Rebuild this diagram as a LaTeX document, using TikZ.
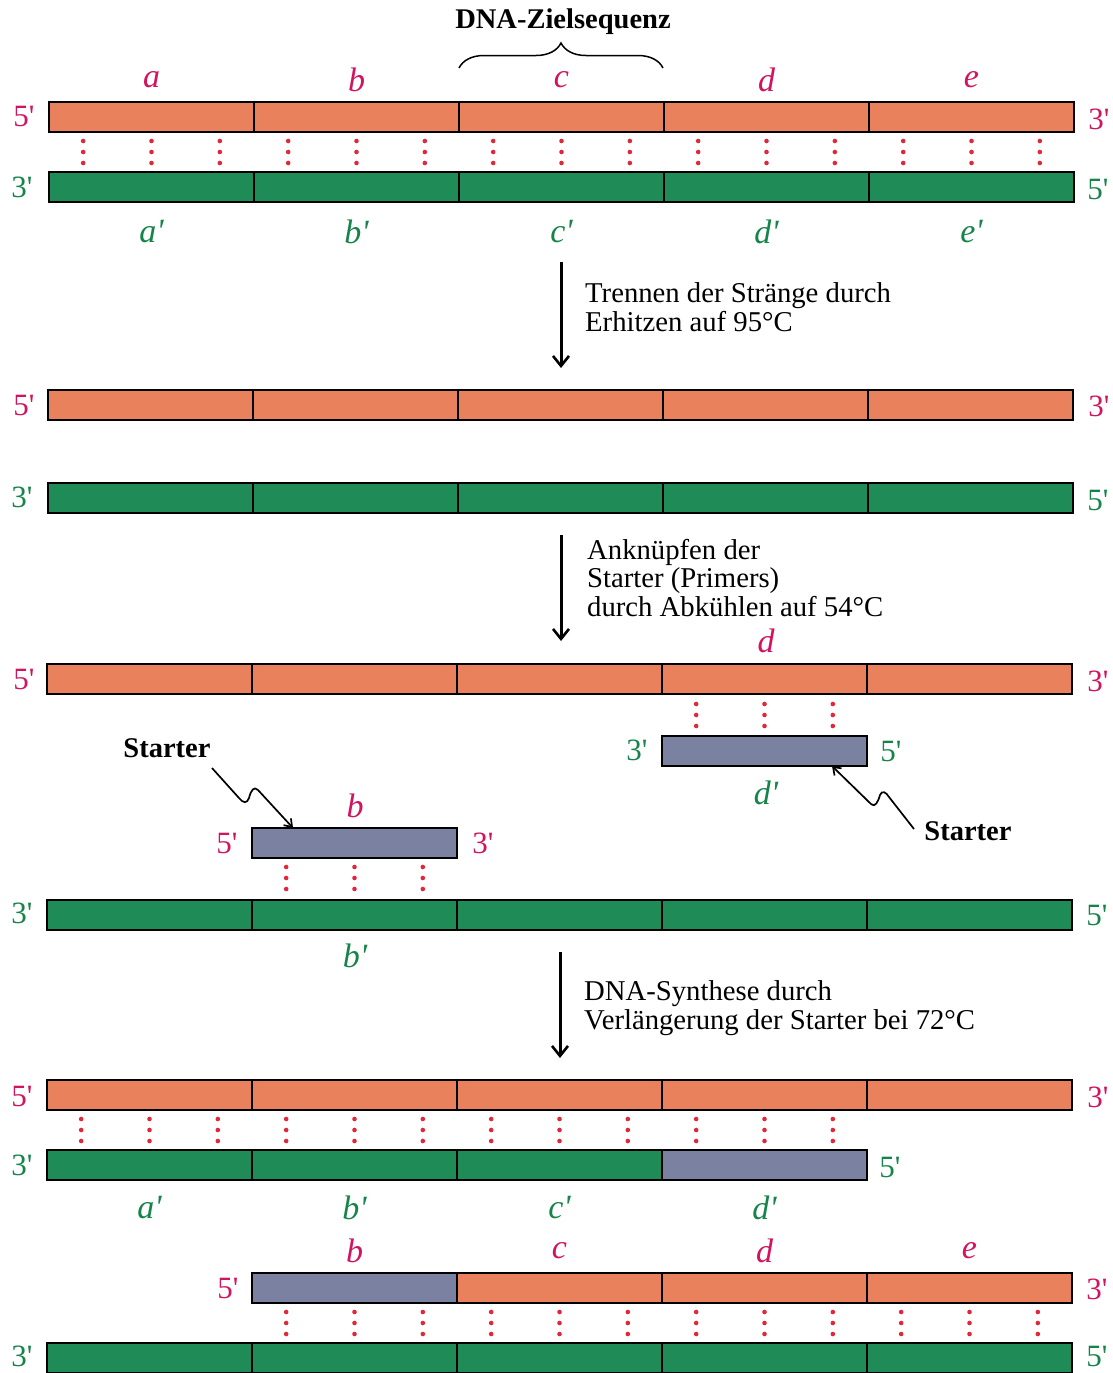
\documentclass[tikz,border=0pt]{standalone}
\usepackage{fontspec}
\setmainfont{Liberation Serif}
\newfontfamily\endfont{Liberation Serif}[Ligatures=TeXOff]
\usetikzlibrary{arrows.meta,decorations.pathreplacing}
\definecolor{strandO}{HTML}{E8815C}
\definecolor{strandG}{HTML}{1F8B57}
\definecolor{strandP}{HTML}{7A81A1}
\definecolor{labM}{HTML}{D0145F}
\definecolor{labG}{HTML}{16844A}
\definecolor{bondR}{HTML}{E0283A}
\tikzset{
  seg/.style={draw=black, line width=1.8pt, minimum width=205pt, minimum height=30pt,
    inner sep=0pt, outer sep=0pt, anchor=north west},
  sense/.style={seg, fill=strandO},
  anti/.style={seg, fill=strandG},
  primer/.style={seg, fill=strandP},
  endlab/.style={font=\endfont\fontsize{31}{31}\selectfont, inner sep=0pt},
  endM/.style={endlab, text=labM},
  endG/.style={endlab, text=labG},
  seglab/.style={font=\endfont\itshape\fontsize{34}{34}\selectfont, inner sep=0pt},
  segM/.style={seglab, text=labM},
  segG/.style={seglab, text=labG},
  note/.style={font=\fontsize{28.7}{28.5}\selectfont, align=left, anchor=west, inner sep=0pt},
  boldnote/.style={font=\bfseries\fontsize{28.5}{28.5}\selectfont, inner sep=0pt},
  stepar/.style={line width=3pt, -{Straight Barb[length=10pt,width=16pt,line width=2.6pt]}},
  pointer/.style={line width=1.7pt, -{Straight Barb[length=7pt,width=10pt,line width=1.7pt]}},
  bond/.style={fill=bondR}
}
% three hydrogen-bond dot columns per segment: #1 left x, #2 top y, #3 number of segments
\newcommand\hbonds[3]{%
  \foreach \k in {1,...,#3}{%
    \foreach \f in {0.1667,0.5,0.8333}{%
      \foreach \dy in {0,11,22}{%
        \fill[bond] ({#1+205*(\k-1)+205*\f},{#2+\dy}) circle (2.3pt);
      }}}}
\begin{document}
\begin{tikzpicture}[x=1pt,y=-1pt]
\useasboundingbox (0,0) rectangle (1112,1373);

% ---------- double strand with target sequence ----------
\node[boldnote] (target) at (563,22) {DNA-Zielsequenz};
\draw[decorate, decoration={brace, amplitude=25pt}, line width=1.5pt] (459,68) -- (663,68);
\foreach \i/\s in {0/a,1/b,2/c,3/d,4/e}{
  \node[sense] (ra\s) at ({49+205*\i},102) {};
  \node[anti] (rb\s) at ({49+205*\i},172) {};
  \node[segM] (la\s) at ({49+205*\i+102.5},80) {\s};
  \node[segG] (lb\s) at ({49+205*\i+102.5},232) {\s'};
}
\hbonds{49}{141}{5}
\node[endM] (e1) at (24,117) {5'};
\node[endM] (e2) at (1099,119) {3'};
\node[endG] (e3) at (22,187) {3'};
\node[endG] (e4) at (1098,189) {5'};

% ---------- step 1 ----------
\coordinate (s1a) at (561,262);
\coordinate (s1b) at (561,368);
\draw[stepar] (s1a) -- (s1b);
\node[note] (n1) at (585,307) {Trennen der Stränge durch\\Erhitzen auf 95°C};

% ---------- separated strands ----------
\foreach \i in {0,...,4}{
  \node[sense] (sa\i) at ({48+205*\i},390) {};
  \node[anti] (sb\i) at ({48+205*\i},483) {};
}
\node[endM] (e5) at (24,405) {5'};
\node[endM] (e6) at (1099,406) {3'};
\node[endG] (e7) at (22,497) {3'};
\node[endG] (e8) at (1098,500) {5'};

% ---------- step 2 ----------
\coordinate (s2a) at (561,535);
\coordinate (s2b) at (561,641);
\draw[stepar] (s2a) -- (s2b);
\node[note] (n2) at (587,578) {Anknüpfen der\\Starter (Primers)\\durch Abkühlen auf 54°C};

% ---------- annealed starters ----------
\foreach \i in {0,...,4}{
  \node[sense] (pa\i) at ({47+205*\i},664) {};
  \node[anti] (pb\i) at ({47+205*\i},900) {};
}
\node[segM] (ld) at (766,641) {d};
\node[endM] (e9) at (24,679) {5'};
\node[endM] (e10) at (1098,681) {3'};
\node[endG] (e11) at (22,913) {3'};
\node[endG] (e12) at (1097,915) {5'};
\node[segG] (lbp) at (355,956) {b'};

\node[primer] (pd) at (662,736) {};
\hbonds{662}{704}{1}
\node[endG] (e13) at (637,750) {3'};
\node[endG] (e14) at (891,751) {5'};
\node[segG] (ldp) at (766,793) {d'};

\node[primer] (pbb) at (252,828) {};
\hbonds{252}{867}{1}
\node[endM] (e15) at (227,843) {5'};
\node[endM] (e16) at (483,843) {3'};
\node[segM] (lbb) at (355,806) {b};

\node[boldnote] (stL) at (167,748) {Starter};
\node[boldnote] (stR) at (968,831) {Starter};
\draw[pointer] (212,768) -- (239,798) .. controls (243,803) and (247,804) .. (249,798)
  .. controls (251,790) and (254,786) .. (258,790) -- ([xshift=41pt]pbb.north west);
\draw[pointer] (914,829) -- (889,797) .. controls (886,792) and (882,790) .. (880,795)
  .. controls (878,802) and (875,808) .. (871,804) -- ([xshift=170pt]pd.south west);

% ---------- step 3 ----------
\coordinate (s3a) at (560,952);
\coordinate (s3b) at (560,1058);
\draw[stepar] (s3a) -- (s3b);
\node[note] (n3) at (584,1008) {DNA-Synthese durch\\Verlängerung der Starter bei 72°C};

% ---------- extended starters ----------
\foreach \i in {0,...,4}{
  \node[sense] (xa\i) at ({47+205*\i},1080) {};
}
\foreach \i in {0,...,2}{
  \node[anti] (xb\i) at ({47+205*\i},1150) {};
}
\node[primer] (xb3) at (662,1150) {};
\hbonds{47}{1119}{4}
\node[endM] (e17) at (22,1096) {5'};
\node[endM] (e18) at (1098,1097) {3'};
\node[endG] (e19) at (22,1165) {3'};
\node[endG] (e20) at (890,1167) {5'};
\foreach \i/\s in {0/a,1/b,2/c,3/d}{
  \node[segG] (lx\s) at ({47+205*\i+102.5},1208) {\s'};
}

\node[primer] (ya1) at (252,1273) {};
\foreach \i in {2,...,4}{
  \node[sense] (ya\i) at ({47+205*\i},1273) {};
}
\foreach \i in {0,...,4}{
  \node[anti] (yb\i) at ({47+205*\i},1343) {};
}
\hbonds{252}{1312}{4}
\foreach \i/\s in {1/b,2/c,3/d,4/e}{
  \node[segM] (ly\s) at ({47+205*\i+102.5},1251) {\s};
}
\node[endM] (e21) at (228,1288) {5'};
\node[endM] (e22) at (1097,1289) {3'};
\node[endG] (e23) at (22,1356) {3'};
\node[endG] (e24) at (1097,1356) {5'};
\end{tikzpicture}
\end{document}
